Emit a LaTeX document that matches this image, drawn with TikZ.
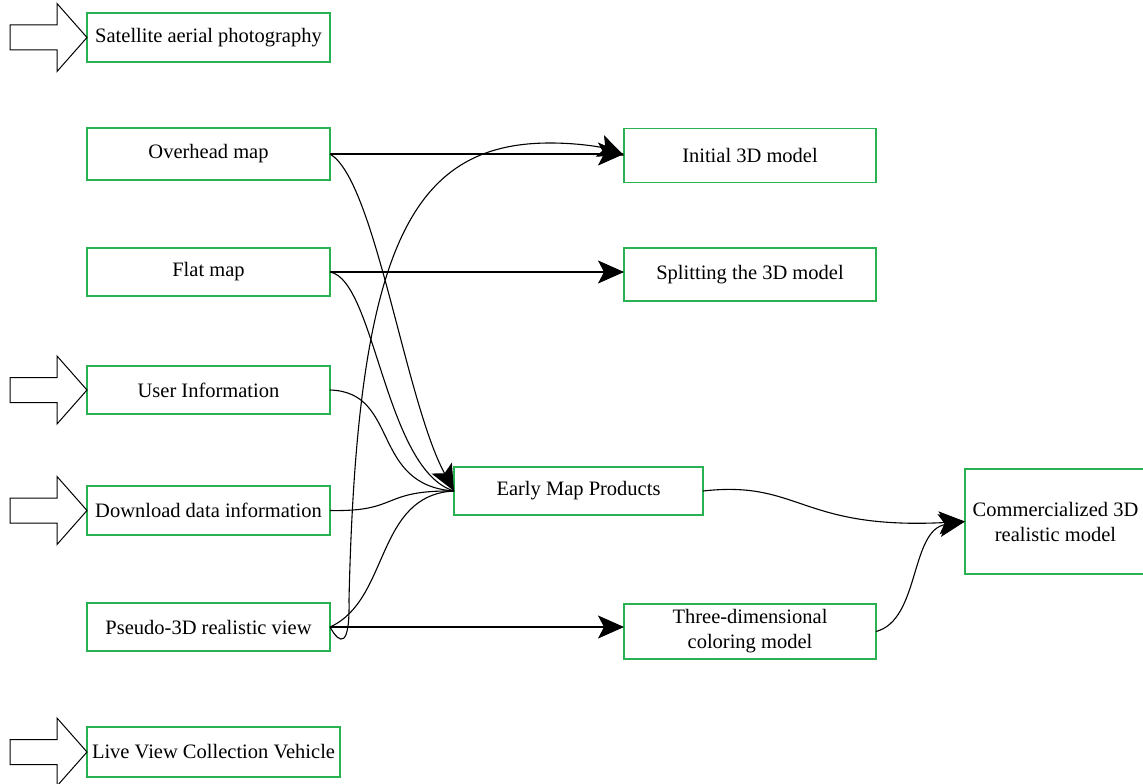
\documentclass[tikz,border=0pt]{standalone}
\usepackage{fontspec}
\setmainfont{Liberation Serif}
\usetikzlibrary{arrows.meta,calc}
\definecolor{boxgreen}{RGB}{40,178,82}
\tikzset{
  box/.style={draw=boxgreen, line width=1.3pt, inner sep=0pt, outer sep=0pt, align=center,
    font=\fontsize{20.5pt}{25pt}\selectfont, text=black},
  conn/.style={draw=black, line width=1.1pt},
  tipped/.style={conn, -{Stealth[length=26pt, width=23pt, inset=6pt]}},
  blockarrow/.style={draw=black, line width=1pt, fill=white}
}
\begin{document}
\begin{tikzpicture}[x=1pt,y=-1pt]
\useasboundingbox (0,0) rectangle (1143,784);
% left column
\node[box, minimum width=243pt, minimum height=49pt] (sat) at (208.5,37.5) {Satellite aerial photography};
\node[box, minimum width=243pt, minimum height=52pt] (ovh) at (208.5,154) {Overhead map};
\node[box, minimum width=243pt, minimum height=48pt] (flat) at (208.5,272) {Flat map};
\node[box, minimum width=243pt, minimum height=48pt] (user) at (208.5,390) {User Information};
\node[box, minimum width=243pt, minimum height=49pt] (down) at (208.5,510.5) {Download data information};
\node[box, minimum width=243pt, minimum height=48pt] (pseudo) at (208.5,627) {Pseudo-3D realistic view};
\node[box, minimum width=253pt, minimum height=50pt] (live) at (213.5,752) {Live View Collection Vehicle};
% middle / right
\node[box, minimum width=252pt, minimum height=54pt] (init) at (750,155.5) {Initial 3D model};
\node[box, minimum width=252pt, minimum height=53pt] (split) at (750,274.5) {Splitting the 3D model};
\node[box, minimum width=249pt, minimum height=48pt] (early) at (578.5,491) {Early Map Products};
\node[box, minimum width=252pt, minimum height=55pt] (three) at (750,631.5) {Three-dimensional\\coloring model};
\node[box, minimum width=181pt, minimum height=105pt] (comm) at (1055.5,521.5) {Commercialized 3D\\realistic model};
% block arrows
\foreach \n in {sat,user,down,live}{
  \draw[blockarrow] ($(\n.west)+(-77,-12.5)$) -- ++(47,0) -- ++(0,-21.5) -- (\n.west)
    -- ($(\n.west)+(-30,34)$) -- ++(0,-21.5) -- ++(-47,0) -- cycle;
}
% straight connectors
\draw[tipped] (ovh.east) -- (ovh.east -| init.west);
\draw[tipped] (flat.east) -- (flat.east -| split.west);
\draw[tipped] (pseudo.east) -- (pseudo.east -| three.west);
% curves into Early Map Products
\draw[conn] (flat.east) .. controls (375,280) and (385,470) .. (early.west);
\draw[conn] (user.east) .. controls (400,392) and (370,485) .. (early.west);
\draw[conn] (down.east) .. controls (400,512) and (380,490) .. (early.west);
\draw[conn] (pseudo.east) .. controls (390,600) and (375,495) .. (early.west);
\draw[tipped] (ovh.east) .. controls (375,180) and (405,400) .. (early.west);
% loop from Pseudo-3D to Initial 3D model
\draw[tipped] (pseudo.east) .. controls (340,645) and (350,648) .. (349,600)
  .. controls (357,250) and (410,143) .. (550,143)
  .. controls (582,143) and (605,148) .. (init.west);
% into Commercialized
\draw[tipped] (early.east) .. controls (800,480) and (800,530) .. (comm.west);
\draw[tipped] (three.east) .. controls (920,620) and (910,530) .. (comm.west);
\end{tikzpicture}
\end{document}
